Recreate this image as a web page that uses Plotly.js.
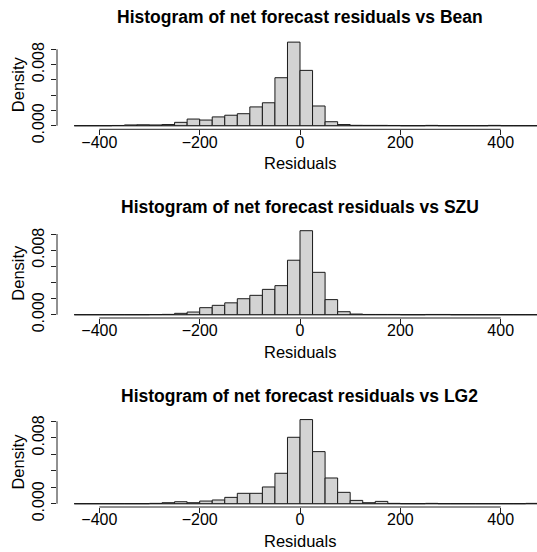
<!DOCTYPE html>
<html>
<head>
<meta charset="utf-8">
<script src="https://cdn.plot.ly/plotly-3.0.1.min.js"></script>
<style>html,body{margin:0;padding:0;background:#fff;}#chart{width:537px;height:552px;}</style>
</head>
<body>
<div id="chart"></div>
<script>
// ---- data ----
const breaks = [-450,-425,-400,-375,-350,-325,-300,-275,-250,-225,-200,-175,-150,-125,-100,-75,-50,-25,0,25,50,75,100,125,150,175,200,225,250,275,300,325,350,375,400,425,450,475];
const panelNames = ["Bean", "SZU", "LG2"];
const densityBean = [0,0,0,0.00003,0.0001,0.00012,0.0001,0.00015,0.00044,0.00087,0.00074,0.00115,0.00137,0.00157,0.00246,0.0030,0.00628,0.01094,0.00724,0.00258,0.00052,0.00015,0.00005,0.00004,0.00004,0.00003,0,0,0.00004,0,0,0,0,0.00004,0,0,0];
const densitySZU  = [0,0,0,0,0,0,0.00002,0.00004,0.00017,0.00033,0.00087,0.00116,0.00147,0.00198,0.0024,0.00314,0.0036,0.00675,0.01041,0.00525,0.00187,0.00037,0.00008,0.00003,0.00003,0.00003,0,0,0.00003,0.00003,0,0,0,0,0,0,0];
const densityLG2  = [0,0,0,0,0,0,0.00004,0.00012,0.00024,0.00012,0.00032,0.00045,0.00077,0.00126,0.00126,0.00203,0.00369,0.00806,0.01021,0.00632,0.00312,0.00138,0.0004,0.00012,0.00028,0.00004,0,0,0.00004,0,0,0,0,0,0,0,0.00004];
const seriesList = [densityBean, densitySZU, densityLG2];
const xTickVals = [-400,-200,0,200,400];
const yTickVals = [0,0.002,0.004,0.006,0.008,0.010];
const yTickText = ["0.000","","","","0.008",""];

// ---- layout geometry (pixels) ----
const W = 537, H = 552;
const FONT = "Liberation Sans, Arial, Helvetica, sans-serif";
const xPlotLeft = 57;
const xRange = [-484.4, 472.4];
// per panel: pixel of y=0, px per unit, bottom px, top px
const geo = [
  {y0:125.7, k:7640, b:129.3, t:39.0},
  {y0:314.7, k:8070, b:318.0, t:227.3},
  {y0:503.7, k:8240, b:507.0, t:416.2}
];
const titleY = [17.5, 206.5, 395.5];
const xlabY = [161.5, 350.5, 539.5];

const centers = breaks.slice(0,-1).map((b,i)=> (b+breaks[i+1])/2);
const widths = breaks.slice(0,-1).map((b,i)=> breaks[i+1]-b);

const traces = [];
const layout = {
  width: W, height: H,
  margin: {l:0, r:0, t:0, b:0, pad:0},
  paper_bgcolor: "#fff", plot_bgcolor: "#fff",
  showlegend: false,
  font: {family: FONT, size: 16, color: "#000"},
  annotations: [], shapes: [],
  bargap: 0
};

seriesList.forEach((vals, i) => {
  const n = i === 0 ? "" : String(i+1);
  const g = geo[i];
  traces.push({
    type: "bar",
    x: centers, y: vals, width: widths,
    xaxis: "x"+n, yaxis: "y"+n,
    marker: {color: "#D3D3D3", line: {color: "#1a1a1a", width: 1}},
    hoverinfo: "skip"
  });
  layout["xaxis"+n] = {
    domain: [xPlotLeft/W, 1], range: xRange, anchor: "y"+n,
    tickvals: xTickVals, ticks: "outside", ticklen: 5, tickwidth: 1, tickcolor: "#222",
    showgrid: false, zeroline: false, showline: false,
    tickfont: {family: FONT, size: 16, color: "#000"},
    ticklabelstandoff: -7
  };
  layout["yaxis"+n] = {
    domain: [1 - g.b/H, 1 - g.t/H],
    range: [-(g.b - g.y0)/g.k, (g.y0 - g.t)/g.k], anchor: "x"+n,
    tickvals: yTickVals, ticktext: yTickText, tickangle: -90,
    ticks: "outside", ticklen: 5, tickwidth: 1, tickcolor: "#222",
    showgrid: false, zeroline: false, showline: false,
    tickfont: {family: FONT, size: 16, color: "#000"},
    ticklabelstandoff: 1
  };
  // axis lines (R style: from first to last tick)
  layout.shapes.push({type:"line", xref:"x"+n, yref:"y"+n+" domain", x0:xTickVals[0], x1:xTickVals[xTickVals.length-1], y0:0, y1:0, line:{color:"#222", width:1}});
  layout.shapes.push({type:"line", xref:"x"+n+" domain", yref:"y"+n, x0:0, x1:0, y0:yTickVals[0], y1:yTickVals[yTickVals.length-1], line:{color:"#222", width:1}});
  // histogram baseline across all breaks
  layout.shapes.push({type:"line", xref:"x"+n, yref:"y"+n, x0:breaks[0], x1:breaks[breaks.length-1], y0:0, y1:0, line:{color:"#333", width:1}, layer:"below"});
  // titles and labels
  layout.annotations.push({text: "<b>Histogram of net forecast residuals vs " + panelNames[i] + "</b>", xref:"paper", yref:"paper", x: 299.5/W, y: 1 - titleY[i]/H, xanchor:"center", yanchor:"middle", showarrow:false, font:{family:FONT, size:17.5, color:"#000"}});
  layout.annotations.push({text: "Residuals", xref:"paper", yref:"paper", x: 300/W, y: 1 - (xlabY[i]+1.5)/H, xanchor:"center", yanchor:"middle", showarrow:false, font:{family:FONT, size:16.5, color:"#000"}});
  layout.annotations.push({text: "Density", xref:"paper", yref:"paper", x: 18/W, y: 1 - ((g.b+g.t)/2)/H, xanchor:"center", yanchor:"middle", textangle:-90, showarrow:false, font:{family:FONT, size:16.5, color:"#000"}});
});

Plotly.newPlot("chart", traces, layout, {displayModeBar:false, staticPlot:true});
</script>
</body>
</html>
